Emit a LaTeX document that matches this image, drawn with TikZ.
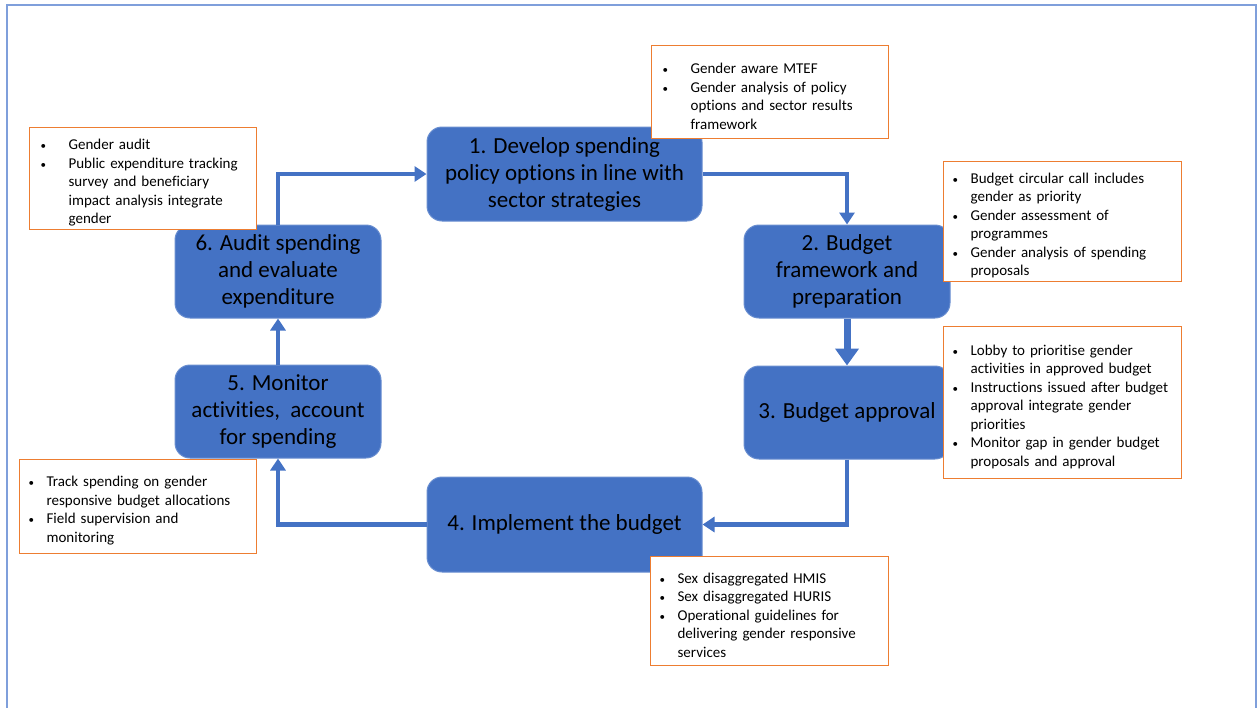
\documentclass[tikz,border=0pt]{standalone}
\usepackage{fontspec}
\setmainfont{Carlito}[Ligatures=NoCommon]
\usepackage{enumitem}
\usetikzlibrary{arrows.meta}
\definecolor{stepblue}{HTML}{4472C4}
\definecolor{noteorange}{HTML}{ED7D31}
\definecolor{frameblue}{HTML}{7F9FDB}
\newcommand{\notebullet}{{\fontsize{11}{11}\selectfont\textbullet}}
\setlist[itemize]{label=\notebullet, leftmargin=23pt, labelwidth=8pt, labelsep=10pt, align=left,
	itemsep=0pt, topsep=0pt, parsep=0pt, partopsep=0pt}
\newlist{wideitems}{itemize}{1}
\setlist[wideitems]{label=\notebullet, leftmargin=35pt, labelwidth=8pt, labelsep=20pt, align=left,
	itemsep=0pt, topsep=0pt, parsep=0pt, partopsep=0pt}

\begin{document}
\begin{tikzpicture}[x=1pt, y=-1pt,
	stage/.style={fill=stepblue, draw=stepblue!80!white, line width=1pt, rounded corners=15pt,
		align=center, inner sep=0pt, font=\fontsize{23}{27}\selectfont},
	note/.style={fill=white, draw=noteorange, line width=1.2pt, anchor=north west, inner xsep=4pt,
		inner ysep=0pt, font=\fontsize{15}{18.5}\selectfont},
	flow/.style={draw=stepblue, line width=4.5pt, -{Triangle[width=15pt,length=12pt]}}]
	\useasboundingbox (0,0) rectangle (1257,707);
	\draw [draw=frameblue, line width=1.5pt] (7,710) -- (7,5) -- (1256,5) -- (1256,710);

	% cycle stages
	\node [stage, minimum width=275pt, minimum height=94pt] (b1) at (564.5,174)
		{1. Develop spending\\policy options in line with\\sector strategies};
	\node [stage, minimum width=206pt, minimum height=93pt] (b2) at (847,271.5)
		{2. Budget\\framework and\\preparation};
	\node [stage, minimum width=206pt, minimum height=93pt] (b3) at (847,412.5)
		{3. Budget approval};
	\node [stage, minimum width=275pt, minimum height=95pt] (b4) at (564.5,524.5)
		{4. Implement the budget};
	\node [stage, minimum width=206pt, minimum height=93pt] (b5) at (278,411.5)
		{5. Monitor\\activities,\ \ account\\for spending};
	\node [stage, minimum width=206pt, minimum height=93pt] (b6) at (278,271.5)
		{6. Audit spending\\and evaluate\\expenditure};

	% connectors
	\draw [flow] (b1.east) -| (b2.north);
	\draw [flow, line width=7pt, -{Triangle[width=23pt,length=17pt]}] (b2.south) -- (b3.north);
	\draw [flow] (b3.south) |- (b4.east);
	\draw [flow] (b4.west) -| (b5.south);
	\draw [flow] (b5.north) -- (b6.south);
	\draw [flow] (b6.north) |- (b1.west);

	% gender notes
	\node [note, text width=229pt, minimum height=93pt] (n1) at (651,45) {%
		\begin{wideitems}
		\item Gender aware MTEF
		\item Gender analysis of policy\\options and sector results\\framework
		\end{wideitems}};
	\node [note, text width=230pt, minimum height=120pt] (n2) at (943,161) {%
		\begin{itemize}
		\item Budget circular call includes\\gender as priority
		\item Gender assessment of\\programmes
		\item Gender analysis of spending\\proposals
		\end{itemize}};
	\node [note, text width=230pt, minimum height=152pt] (n3) at (943,326) {%
		\begin{itemize}
		\item Lobby to prioritise gender\\activities in approved budget
		\item Instructions issued after budget\\approval integrate gender\\priorities
		\item Monitor gap in gender budget\\proposals and approval
		\end{itemize}\par\vspace{14pt}};
	\node [note, text width=230pt, minimum height=109pt] (n4) at (650,556) {%
		\begin{itemize}
		\item Sex disaggregated HMIS
		\item Sex disaggregated HURIS
		\item Operational guidelines for\\delivering gender responsive\\services
		\end{itemize}};
	\node [note, text width=229pt, minimum height=94pt] (n5) at (19,459) {%
		\begin{itemize}
		\item Track spending on gender\\responsive budget allocations
		\item Field supervision and\\monitoring
		\end{itemize}\par\vspace{12pt}};
	\node [note, text width=219pt, minimum height=102pt] (n6) at (29,127) {%
		\begin{wideitems}
		\item Gender audit
		\item Public expenditure tracking\\survey and beneficiary\\impact analysis integrate\\gender
		\end{wideitems}};
\end{tikzpicture}
\end{document}
